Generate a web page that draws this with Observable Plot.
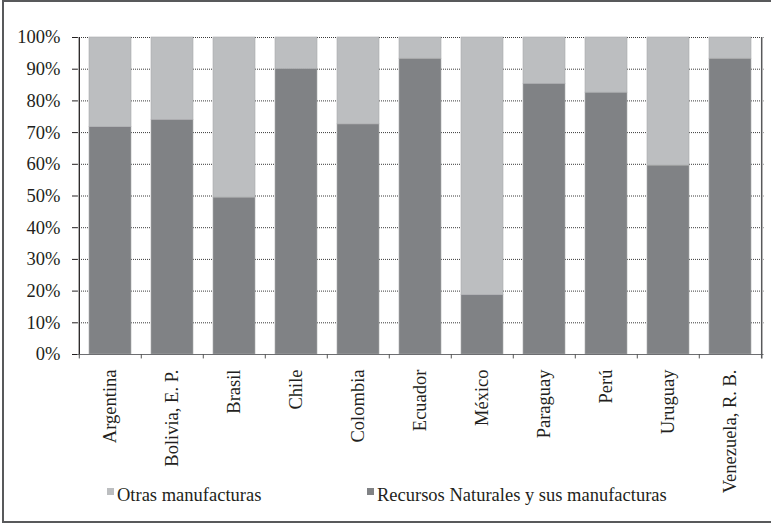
<!DOCTYPE html>
<html><head><meta charset="utf-8">
<script src="https://cdn.jsdelivr.net/npm/d3@7"></script>
<script src="https://cdn.jsdelivr.net/npm/@observablehq/plot@0.6"></script>
<style>
body{margin:0;background:#fff;}
#wrap{position:relative;width:771px;height:523px;overflow:hidden;font-family:"Liberation Serif",serif;color:#231f20;background:#fff;}
#frame{position:absolute;left:2px;top:0;width:800px;height:523px;box-sizing:border-box;border:2px solid #58595b;pointer-events:none;z-index:3}
#plot{position:absolute;left:0;top:0;z-index:1}
#plot svg text{font-family:"Liberation Serif",serif;}
#legend{position:absolute;top:483px;left:0;width:771px;height:24px;font-size:18.5px;line-height:24px;z-index:2}
.item{position:absolute;top:0;white-space:nowrap;}
.sw{display:inline-block;width:7px;height:7px;vertical-align:top;margin-top:5px;margin-right:3px;}
</style></head><body>
<div id="wrap"><div id="frame"></div><div id="plot"></div><div id="legend"></div></div>
<script>
const countries = ["Argentina","Bolivia, E. P.","Brasil","Chile","Colombia","Ecuador","México","Paraguay","Perú","Uruguay","Venezuela, R. B."];
const recursos = [71.7, 74.0, 49.5, 90.1, 72.6, 93.3, 18.7, 85.4, 82.6, 59.6, 93.3];
const otras    = [28.3, 26.0, 50.5,  9.9, 27.4,  6.7, 81.3, 14.6, 17.4, 40.4,  6.7];
const seriesNames = ["Recursos Naturales y sus manufacturas","Otras manufacturas"];
const seriesColors = ["#808285","#bcbec0"];
const yTicks = [0,10,20,30,40,50,60,70,80,90,100];
const legendOrder = ["Otras manufacturas","Recursos Naturales y sus manufacturas"];

const rows = countries.flatMap((c,i)=>[
  {country:c, serie:seriesNames[0], value:recursos[i]},
  {country:c, serie:seriesNames[1], value:otras[i]}
]);

const W = 771, H = 523, mL = 77, mR = 7.5, mT = 37, mB = 169;
const step = (W - mL - mR) / countries.length;
const last = countries[countries.length-1];
const FONT = '"Liberation Serif", serif';

const chart = Plot.plot({
  width: W, height: H,
  marginLeft: mL, marginRight: mR, marginTop: mT, marginBottom: mB,
  style: {fontFamily: FONT, fontSize: "18px", color: "#231f20", background: "transparent"},
  x: {domain: countries, paddingInner: 0.33, paddingOuter: 0.165, label: null},
  y: {domain: [0,100], label: null},
  color: {domain: seriesNames, range: seriesColors},
  marks: [
    Plot.ruleY(yTicks.slice(1), {stroke: "#3a3a3a", strokeDasharray: "1,1", strokeWidth: 1}),
    Plot.barY(rows, {x: "country", y: "value", fill: "serie", order: seriesNames, stroke: "#a9aaac", strokeWidth: 0.6}),
    Plot.ruleY([0], {stroke: "#6d6e71", strokeWidth: 1.2}),
    Plot.ruleX(countries, {x: d=>d, dx: -step/2, y1: 0, y2: -1.4, stroke: "#555", strokeWidth: 1}),
    Plot.ruleX([countries[0]], {x: d=>d, dx: -step/2, y1: 0, y2: 100, stroke: "#231f20", strokeWidth: 1.3}),
    Plot.ruleX([last], {x: d=>d, dx: step/2, y1: -1.4, y2: 100, stroke: "#58595b", strokeWidth: 1.5}),
    Plot.axisY({ticks: yTicks, tickFormat: d=>d+"%", tickSize: 5, tickPadding: 12, fontSize: 18.5, fontFamily: FONT, label: null}),
    Plot.axisX({tickSize: 0, tickPadding: 15, tickRotate: -90, fontSize: 18.5, fontFamily: FONT, label: null})
  ]
});
document.getElementById("plot").appendChild(chart);

const legendX = {"Otras manufacturas": 107, "Recursos Naturales y sus manufacturas": 367};
const lg = document.getElementById("legend");
legendOrder.forEach(name=>{
  const it = document.createElement("div");
  it.className = "item";
  it.style.left = legendX[name] + "px";
  const sw = document.createElement("span");
  sw.className = "sw";
  sw.style.background = seriesColors[seriesNames.indexOf(name)];
  it.appendChild(sw);
  it.appendChild(document.createTextNode(name));
  lg.appendChild(it);
});
</script>
</body></html>
